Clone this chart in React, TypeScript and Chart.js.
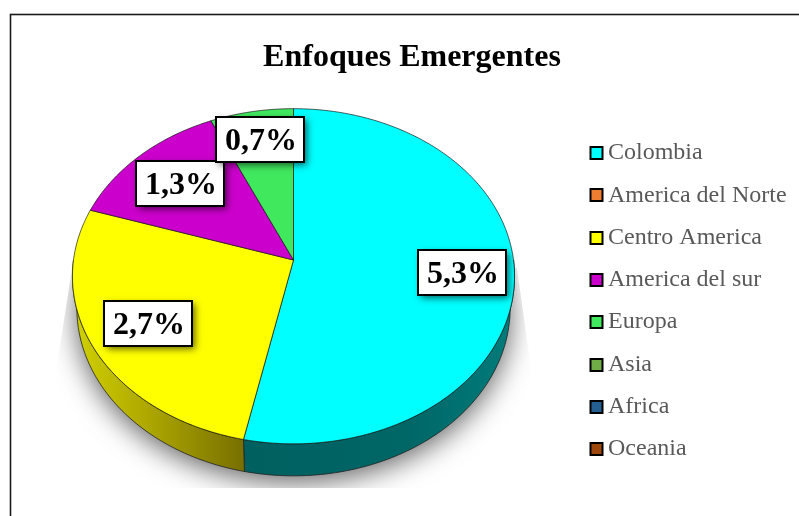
import React, { useEffect, useRef } from "react";
import { Chart, registerables } from "chart.js";

Chart.register(...registerables);

const categories = ["Colombia", "America del Norte", "Centro America", "America del sur", "Europa", "Asia", "Africa", "Oceania"];
const shares = [5.33, 0, 2.67, 1.33, 0.67, 0, 0, 0];
const sliceColors = ["#00ffff", "#ed7d31", "#ffff00", "#cc00cc", "#40e85e", "#70ad47", "#255e91", "#9e480e"];
const labelFractions = [0.76, 0, 0.74, 0.73, 0.8, 0, 0, 0];

const SERIF = '"Liberation Serif", "Times New Roman", serif';
const CX = 293.5, CY = 260, RX = 220, RY = 166, Q = 0.097, DEPTH = 32, WALL_X = 0.98;

function project(a: number, f = 1) {
  const u = Math.cos(a) * f, v = Math.sin(a) * f;
  const d = 1 - Q * v;
  return { x: CX + (RX * u) / d, y: CY + (RY * v) / d };
}
function wall(a: number) {
  const p = project(a);
  return { x: CX + (p.x - CX) * WALL_X, y: p.y + DEPTH };
}
function rimPath(ctx: CanvasRenderingContext2D, a0: number, a1: number, fn = project) {
  const n = Math.max(2, Math.ceil(Math.abs(a1 - a0) * 80));
  for (let i = 0; i <= n; i++) {
    const p = fn(a0 + ((a1 - a0) * i) / n);
    ctx.lineTo(p.x, p.y);
  }
}

const pie3d = {
  id: "pie3d",
  beforeDraw(chart: any) {
    const { ctx } = chart;
    ctx.save();
    ctx.fillStyle = "#fff";
    ctx.fillRect(0, 0, chart.width, chart.height);
    ctx.strokeStyle = "#1a1a1a";
    ctx.lineWidth = 1.6;
    ctx.strokeRect(10.5, 14.5, 900, 700);
    ctx.restore();
  },
  beforeDatasetsDraw(chart: any) {
    const { ctx } = chart;
    const arcs = chart.getDatasetMeta(0).data;
    const vals = chart.data.datasets[0].data as number[];
    ctx.save();

    // soft floor shadow, cut off by its own picture frame
    ctx.save();
    ctx.beginPath();
    ctx.moveTo(72, 268); ctx.lineTo(57, 365); ctx.lineTo(57, 488); ctx.lineTo(531, 488); ctx.lineTo(531, 369); ctx.lineTo(517, 268);
    ctx.closePath();
    ctx.clip();
    ctx.shadowColor = "rgba(0,0,0,0.62)";
    ctx.shadowBlur = 28;
    ctx.shadowOffsetY = 6;
    ctx.fillStyle = "#888";
    ctx.beginPath();
    rimPath(ctx, 0, Math.PI * 2, wall);
    ctx.closePath();
    ctx.fill();
    ctx.restore();

    // side walls
    const wallStops: Record<number, [number, string][]> = {
      0: [[0, "#006060"], [0.6, "#006666"], [1, "#007c7c"]],
      2: [[0, "#d0d000"], [0.4, "#b0aa00"], [1, "#787000"]],
    };
    arcs.forEach((el: any, i: number) => {
      if (!vals[i]) return;
      const a0 = Math.max(el.startAngle, 0), a1 = Math.min(el.endAngle, Math.PI);
      if (a1 <= a0) return;
      const l = i === 2 ? 76 : project(a1).x;
      const r = i === 2 ? project(a0).x : 516;
      const g = ctx.createLinearGradient(l, 0, r, 0);
      (wallStops[i] || [[0, sliceColors[i]], [1, sliceColors[i]]]).forEach(([o, c]) => g.addColorStop(o, c));
      ctx.fillStyle = g;
      ctx.strokeStyle = "#222";
      ctx.lineWidth = 0.8;
      ctx.beginPath();
      rimPath(ctx, a0, a1);
      rimPath(ctx, a1, a0, wall);
      ctx.closePath();
      ctx.fill();
      ctx.stroke();
    });

    // top faces
    arcs.forEach((el: any, i: number) => {
      if (!vals[i]) return;
      ctx.beginPath();
      ctx.moveTo(CX, CY);
      rimPath(ctx, el.startAngle, el.endAngle);
      ctx.closePath();
      ctx.fillStyle = sliceColors[i];
      ctx.fill();
      ctx.strokeStyle = "rgba(20,20,20,0.75)";
      ctx.lineWidth = 0.9;
      ctx.stroke();
    });

    // data labels
    ctx.font = `bold 32px ${SERIF}`;
    ctx.textAlign = "center";
    ctx.textBaseline = "middle";
    arcs.forEach((el: any, i: number) => {
      if (!vals[i]) return;
      const p = project((el.startAngle + el.endAngle) / 2, labelFractions[i]);
      const x = Math.round(p.x - 44) + 1, y = Math.round(p.y - 22) - (i === 0 || i === 2 ? 1 : 0);
      ctx.save();
      ctx.shadowColor = "rgba(0,0,0,0.6)";
      ctx.shadowBlur = 7;
      ctx.shadowOffsetX = 3;
      ctx.shadowOffsetY = 3;
      ctx.fillStyle = "#fff";
      ctx.fillRect(x, y, 88, 45);
      ctx.restore();
      ctx.strokeStyle = "#000";
      ctx.lineWidth = 2;
      ctx.strokeRect(x, y, 88, 45);
      ctx.fillStyle = "#000";
      ctx.fillText(vals[i].toFixed(1).replace(".", ",") + "%", x + 45, y + 25);
    });
    ctx.restore();
    return false;
  },
  afterLayout(chart: any) {
    const lg = chart.legend;
    const pad = lg.options.labels.padding;
    const w = lg.width, h = lg.height;
    lg.left = 595 - pad;
    lg.right = lg.left + w;
    lg.top = 141 - pad;
    lg.bottom = lg.top + h;
    lg.adjustHitBoxes();
  },
  afterDraw(chart: any) {
    const { ctx } = chart;
    ctx.save();
    chart.legend.legendHitBoxes.forEach((b: any, i: number) => {
      const y = Math.round(b.top + b.height / 2 - 6);
      ctx.fillStyle = sliceColors[i];
      ctx.fillRect(590.5, y, 12, 12);
      ctx.strokeStyle = "#000";
      ctx.lineWidth = 2;
      ctx.strokeRect(590.5, y, 12, 12);
    });
    ctx.restore();
  },
};

export default function App() {
  const ref = useRef<HTMLCanvasElement>(null);
  useEffect(() => {
    const chart = new Chart(ref.current as HTMLCanvasElement, {
      type: "pie",
      data: {
        labels: categories,
        datasets: [{ data: shares, backgroundColor: sliceColors, borderWidth: 0 }],
      },
      options: {
        responsive: false,
        animation: false,
        layout: { padding: { left: 25 } },
        plugins: {
          tooltip: { enabled: false },
          title: {
            display: true,
            text: "Enfoques Emergentes",
            color: "#000",
            font: { family: SERIF, size: 32, weight: "bold" },
            padding: { top: 39, bottom: 0 },
          },
          legend: {
            position: "right",
            align: "start",
            labels: {
              boxWidth: 1,
              boxHeight: 1,
              padding: 18.3,
              color: "#595959",
              font: { family: SERIF, size: 24 },
              generateLabels(chart: any) {
                return (Chart as any).overrides.pie.plugins.legend.labels
                  .generateLabels(chart)
                  .map((it: any) => ({ ...it, fillStyle: "rgba(0,0,0,0)", strokeStyle: "rgba(0,0,0,0)", lineWidth: 0 }));
              },
            },
          },
        },
      } as any,
      plugins: [pie3d as any],
    });
    return () => chart.destroy();
  }, []);
  return <canvas ref={ref} width={799} height={516} style={{ position: "fixed", left: 0, top: 0, display: "block" }} />;
}
